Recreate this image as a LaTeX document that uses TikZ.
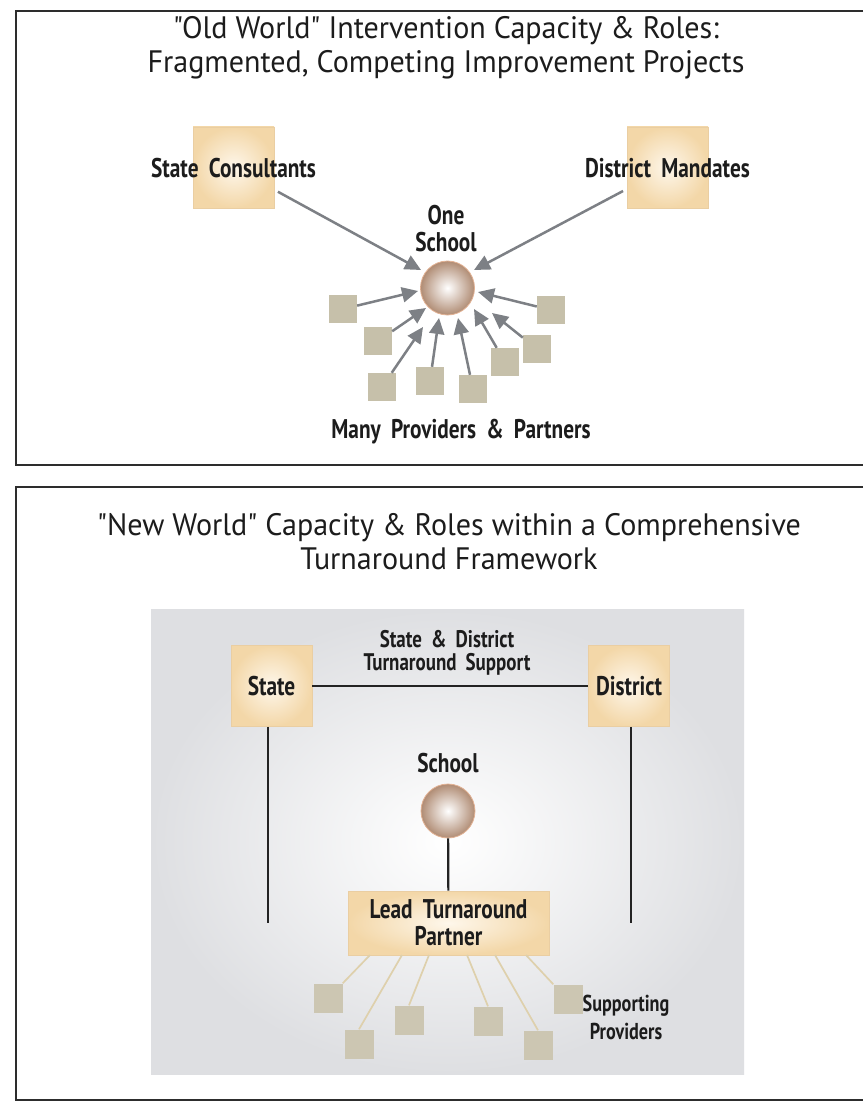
\documentclass[tikz,border=0pt]{standalone}
\usepackage{fontspec}
\setmainfont{PT Sans}
\newfontfamily\titlefont[FakeStretch=0.97]{PT Sans}
\newfontfamily\lblfont[FakeStretch=0.79, WordSpace=1.9]{PT Sans}
\usetikzlibrary{arrows.meta}
\definecolor{tanEdge}{RGB}{243,215,168}
\definecolor{tanCenter}{RGB}{254,247,235}
\definecolor{tanBorder}{RGB}{234,206,162}
\definecolor{provColor}{RGB}{198,192,170}
\definecolor{arrowGray}{RGB}{125,128,133}
\definecolor{sphereOuter}{RGB}{176,140,116}
\definecolor{sphereRim}{RGB}{226,178,148}
\definecolor{grayEdge}{RGB}{222,223,226}
\definecolor{lineDark}{RGB}{35,35,35}
\definecolor{tanLine}{RGB}{222,208,172}
\definecolor{textDark}{RGB}{28,28,28}
\definecolor{panelLine}{RGB}{45,45,45}
\tikzset{
  panel/.style={draw=panelLine, line width=2pt},
  titletext/.style={font=\titlefont\fontsize{31}{34}\selectfont, text=textDark, align=center, inner sep=0},
  lbl/.style={font=\lblfont\bfseries\fontsize{27}{27}\selectfont, text=textDark, align=center, inner sep=0},
  lblsmall/.style={font=\lblfont\bfseries\fontsize{24}{23}\selectfont, text=textDark, align=center, inner sep=0},
  tanbox/.style={rectangle, draw=tanBorder, line width=0.8pt, shading=radial, inner color=tanCenter, outer color=tanEdge, minimum size=81pt, inner sep=0},
  leadbox/.style={rectangle, draw=tanBorder, line width=0.8pt, shading=radial, inner color=tanCenter, outer color=tanEdge, minimum width=201pt, minimum height=64pt, inner sep=0},
  prov/.style={rectangle, fill=provColor, minimum size=28pt, inner sep=0},
  provb/.style={rectangle, fill=provColor!90!white, minimum size=29pt, inner sep=0},
  sphere/.style={circle, minimum size=54pt, inner sep=0, shading=radial, inner color=white, outer color=sphereOuter, draw=sphereRim, line width=0.8pt},
  garrow/.style={draw=arrowGray, line width=2.5pt, -{Triangle[length=16pt,width=15pt]}},
  darkline/.style={draw=lineDark, line width=2.8pt},
  tanline/.style={draw=tanLine, line width=1.7pt},
  bgbox/.style={rectangle, shading=radial, inner color=white, outer color=grayEdge, minimum width=593pt, minimum height=465pt, inner sep=0}
}
\begin{document}
\begin{tikzpicture}[x=1pt,y=-1pt]
\useasboundingbox (0,0) rectangle (863,1107);
\fill[white] (0,0) rectangle (863,1107);
% ---------- panels ----------
\draw[panel] (863,11) -- (16,11) -- (16,465) -- (863,465);
\draw[panel] (863,487) -- (16,487) -- (16,1100) -- (863,1100);
% ---------- top panel ----------
\node[titletext] (t1) at (446,48) {"Old World" Intervention Capacity \& Roles:\\Fragmented, Competing Improvement Projects};
\node[tanbox] (sc) at (233.5,167.5) {};
\node[lbl] (scl) at (233.5,168) {State Consultants};
\node[tanbox] (dm) at (667.5,167.5) {};
\node[lbl] (dml) at (667.5,168) {District Mandates};
\node[lbl] (onel) at (446,228.5) {One\\School};
\node[sphere] (s1) at (447.5,288) {};
\coordinate (tsc) at (421,270);
\coordinate (tdm) at (474,270);
\draw[garrow, shorten <=4pt] (sc) -- (tsc);
\draw[garrow, shorten <=4pt] (dm) -- (tdm);
\node[prov] (pa) at (343,309) {};
\node[prov] (pb) at (378,341) {};
\node[prov] (pc) at (382,387) {};
\node[prov] (pd) at (430,381) {};
\node[prov] (pe) at (473,389) {};
\node[prov] (pf) at (505,362) {};
\node[prov] (pg) at (537,349) {};
\node[prov] (ph) at (551,310) {};
\coordinate (ta) at (418,291);
\coordinate (tb) at (426,308);
\coordinate (tc) at (423,327);
\coordinate (td) at (439,318);
\coordinate (te) at (458,318);
\coordinate (tf) at (474,309);
\coordinate (tg) at (492,313);
\coordinate (th) at (478,292);
\draw[garrow] (pa) -- (ta);
\draw[garrow] (pb) -- (tb);
\draw[garrow] (pc) -- (tc);
\draw[garrow] (pd) -- (td);
\draw[garrow] (pe) -- (te);
\draw[garrow] (pf) -- (tf);
\draw[garrow] (pg) -- (tg);
\draw[garrow] (ph) -- (th);
\node[lbl] (many) at (461,432) {Many Providers \& Partners};
% ---------- bottom panel ----------
\node[titletext] (t2) at (449,542) {"New World" Capacity \& Roles within a Comprehensive\\Turnaround Framework};
\node[bgbox] (frame) at (447.5,841.5) {};
\node[tanbox] (st) at (271.5,686) {};
\node[lbl] (stl) at (271.5,686) {State};
\node[tanbox] (di) at (629,686) {};
\node[lbl] (dil) at (629,686) {District};
\draw[darkline] (st) -- (di);
\node[lblsmall] (sds) at (447,653) {State \& District\\Turnaround Support};
\coordinate (ste) at (268,923);
\coordinate (die) at (631,923);
\draw[darkline] (st.south -| ste) -- (ste);
\draw[darkline] (di.south -| die) -- (die);
\node[lbl] (schl) at (448,763) {School};
\node[sphere] (s2) at (448,811) {};
\node[leadbox] (ltp) at (448.5,923) {};
\node[lbl] (ltpl) at (448.5,923) {Lead Turnaround\\Partner};
\draw[darkline, line width=2.2pt] (s2) -- (ltp);
\node[provb] (q1) at (328,998) {};
\node[provb] (q2) at (359,1044) {};
\node[provb] (q3) at (409,1020) {};
\node[provb] (q4) at (488,1021) {};
\node[provb] (q5) at (538,1045) {};
\node[provb] (q6) at (568,999) {};
\coordinate (l1) at (370,955);
\coordinate (l2) at (402,955);
\coordinate (l3) at (429,955);
\coordinate (l4) at (467,955);
\coordinate (l5) at (495,955);
\coordinate (l6) at (526,955);
\draw[tanline] (l1) -- (q1.north east);
\draw[tanline] (l2) -- (q2.north);
\draw[tanline] (l3) -- (q3.north);
\draw[tanline] (l4) -- (q4.north);
\draw[tanline] (l5) -- (q5.north);
\draw[tanline] (l6) -- (q6.north west);
\node[lblsmall, font=\lblfont\bfseries\fontsize{23}{28}\selectfont] (supp) at (626,1017) {Supporting\\Providers};
\end{tikzpicture}
\end{document}
